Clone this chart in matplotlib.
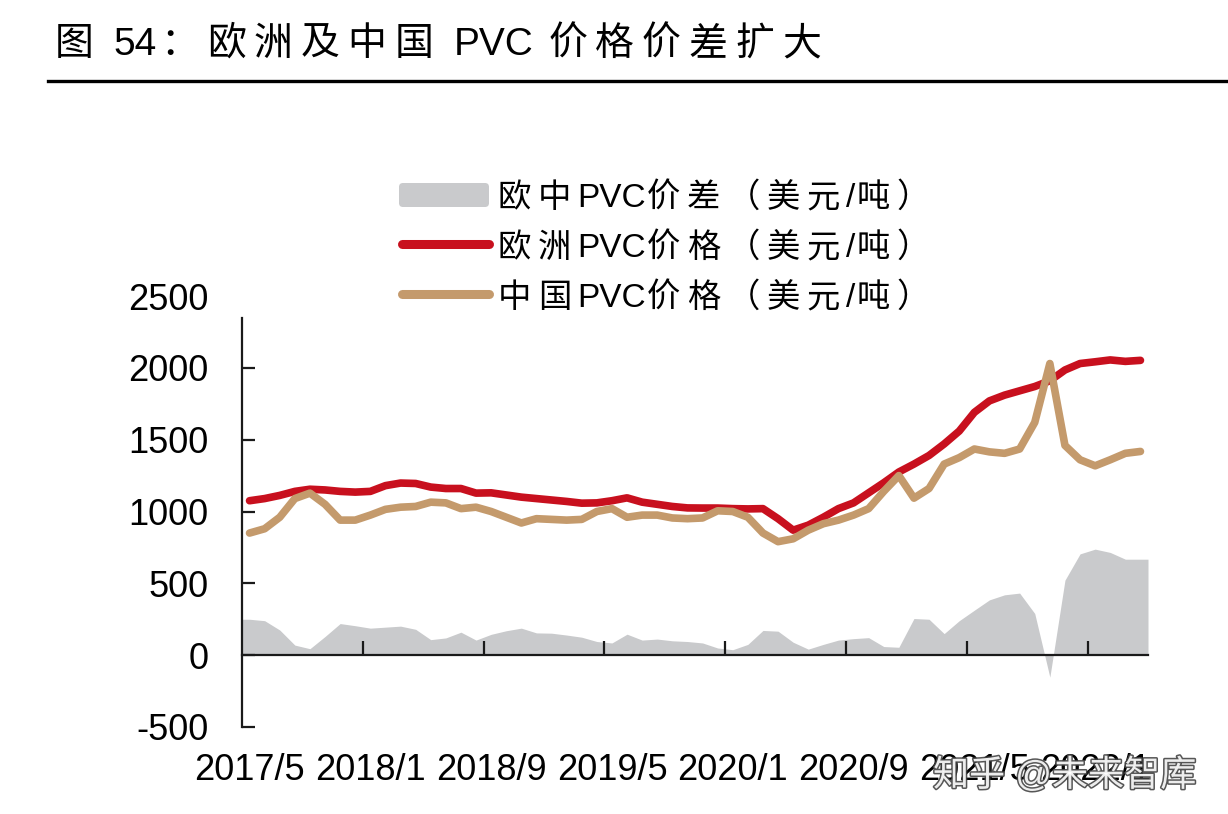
import matplotlib
matplotlib.use("Agg")
import matplotlib.pyplot as plt
from matplotlib.transforms import IdentityTransform
from matplotlib.lines import Line2D
from matplotlib.patches import FancyBboxPatch
import matplotlib.patheffects as pe
import numpy as np
import pandas as pd
import re

plt.rcParams['font.family'] = ['Liberation Sans', 'Noto Sans CJK SC']

# ---------------- data (monthly, 2017/5 - 2022/4) ----------------
months = [p.strftime('%Y/') + str(p.month) for p in pd.period_range('2017-05', '2022-04', freq='M')]

europe = [1075, 1090, 1112, 1140, 1155, 1150, 1140, 1135, 1140, 1180,
          1198, 1195, 1170, 1160, 1160, 1128, 1130, 1115, 1100, 1090,
          1080, 1070, 1058, 1060, 1075, 1095, 1065, 1050, 1035, 1025,
          1024, 1024, 1020, 1018, 1020, 950, 870, 905, 960, 1020,
          1060, 1130, 1200, 1275, 1330, 1390, 1470, 1560, 1690, 1770,
          1810, 1840, 1870, 1910, 1985, 2030, 2042, 2055, 2045, 2052]

china = [850, 880, 960, 1090, 1128, 1050, 940, 940, 975, 1015,
         1030, 1035, 1065, 1060, 1020, 1030, 1000, 960, 920, 950,
         945, 940, 945, 1000, 1020, 960, 975, 975, 955, 950,
         955, 1005, 1000, 960, 850, 790, 810, 870, 915, 940,
         975, 1020, 1140, 1250, 1093, 1160, 1330, 1375, 1435, 1415,
         1405, 1435, 1620, 2030, 1460, 1360, 1318, 1360, 1405, 1418]

spread = [250, 240, 175, 70, 45, 130, 220, 205, 188, 195,
          202, 180, 108, 120, 160, 105, 145, 170, 188, 155,
          153, 140, 125, 95, 85, 146, 105, 112, 100, 95,
          85, 50, 38, 75, 172, 167, 90, 42, 75, 105,
          115, 122, 60, 55, 255, 250, 150, 240, 313, 385,
          420, 432, 290, -153, 522, 705, 738, 715, 668, 668]

tick_labels = ['2017/5', '2018/1', '2018/9', '2019/5', '2020/1', '2020/9', '2021/5', '2022/1']
yticks = [-500, 0, 500, 1000, 1500, 2000, 2500]

legend_labels = ['欧中PVC价差（美元/吨）', '欧洲PVC价格（美元/吨）', '中国PVC价格（美元/吨）']
title = '图 54：欧洲及中国 PVC 价格价差扩大'
watermark = '知乎 @未来智库'

RED = '#C8101E'
TAN = '#C49A6C'
GRAY = '#C9CACC'

# ---------------- figure ----------------
W, H = 1228, 814
fig = plt.figure(figsize=(W / 100, H / 100), dpi=100)
ax = fig.add_axes([242 / W, 1 - 727 / H, (1148 - 242) / W, (727 - 296) / H])

x = np.arange(len(months))
xa = np.r_[x[0] - 0.5, x, x[-1] + 0.5]
ya = np.r_[spread[0], spread, spread[-1]]
ax.fill_between(xa, ya, 0, color=GRAY, lw=0, zorder=1)
ax.plot(x, europe, color=RED, lw=5.5, solid_capstyle='round', solid_joinstyle='round', zorder=3)
ax.plot(x, china, color=TAN, lw=5.5, solid_capstyle='round', solid_joinstyle='round', zorder=4)

ax.set_xlim(-0.5, len(months) - 0.5)
ax.set_ylim(-500, 2500)

for s in ['top', 'right']:
    ax.spines[s].set_visible(False)
ax.spines['left'].set_bounds(-500, 2350)
ax.spines['left'].set_linewidth(1.6)
ax.spines['left'].set_color('#1a1a1a')
ax.spines['bottom'].set_position(('data', 0))
ax.spines['bottom'].set_bounds(-0.5, len(months) - 0.5)
ax.spines['bottom'].set_linewidth(1.6)
ax.spines['bottom'].set_color('#1a1a1a')

ax.set_yticks(yticks)
ax.set_yticklabels([str(v) for v in yticks])
ax.tick_params(axis='y', direction='in', length=9, width=1.6, color='#1a1a1a',
               labelsize=26, pad=24)
ax.yaxis.get_major_ticks()[-1].tick1line.set_visible(False)

step = 8
ax.set_xticks(np.arange(step - 0.5, len(months) - 0.5, step))
ax.tick_params(axis='x', direction='in', length=10, width=1.6, color='#1a1a1a', labelbottom=False)

sec = ax.secondary_xaxis('bottom')
sec.set_xticks(x[::step], labels=tick_labels)
sec.tick_params(length=0, labelsize=26, pad=19)
sec.spines['bottom'].set_visible(False)

# ---------------- helper for letter-spaced text ----------------
renderer = fig.canvas.get_renderer()


def spaced_text(s, x0, baseline, size, gap, latin_gap=1, space=10, **kw):
    """CJK glyphs spaced one by one; runs of Latin characters kept together."""
    em = size * 100 / 72
    xx = x0
    for tok in re.findall(r'[A-Za-z0-9/]+| |.', s):
        if tok == ' ':
            xx += space
            continue
        t = fig.text(xx, H - baseline, tok, transform=IdentityTransform(), fontsize=size,
                     ha='left', va='baseline', **kw)
        if ord(tok[0]) > 0x2000:
            xx += em + gap
        else:
            xx += t.get_window_extent(renderer).width + latin_gap


# title + rule
spaced_text(title, 55, 55, 28, 8, latin_gap=3, space=12)
fig.add_artist(Line2D([48, 1228], [H - 81, H - 81], transform=IdentityTransform(),
                      color='black', lw=2.4))

# legend
rows = [195, 244, 294]
baselines = [207, 257, 307]
fig.add_artist(FancyBboxPatch((399, H - rows[0] - 12), 90, 24,
                              boxstyle='round,pad=0,rounding_size=4',
                              transform=IdentityTransform(), color=GRAY, lw=0))
fig.add_artist(Line2D([402, 489], [H - rows[1]] * 2, transform=IdentityTransform(),
                      color=RED, lw=6.5, solid_capstyle='round'))
fig.add_artist(Line2D([402, 489], [H - rows[2]] * 2, transform=IdentityTransform(),
                      color=TAN, lw=6.5, solid_capstyle='round'))
for lab, b in zip(legend_labels, baselines):
    spaced_text(lab, 498, b, 24, 6.5, latin_gap=1)

# watermark (overlaid on the reference image)
fig.text(933, H - 786, watermark, transform=IdentityTransform(), fontsize=26,
         ha='left', va='baseline', color='white', alpha=0.9,
         path_effects=[pe.withStroke(linewidth=2.2, foreground='#444444')])

fig.savefig('out.png', dpi=100, facecolor='white')
